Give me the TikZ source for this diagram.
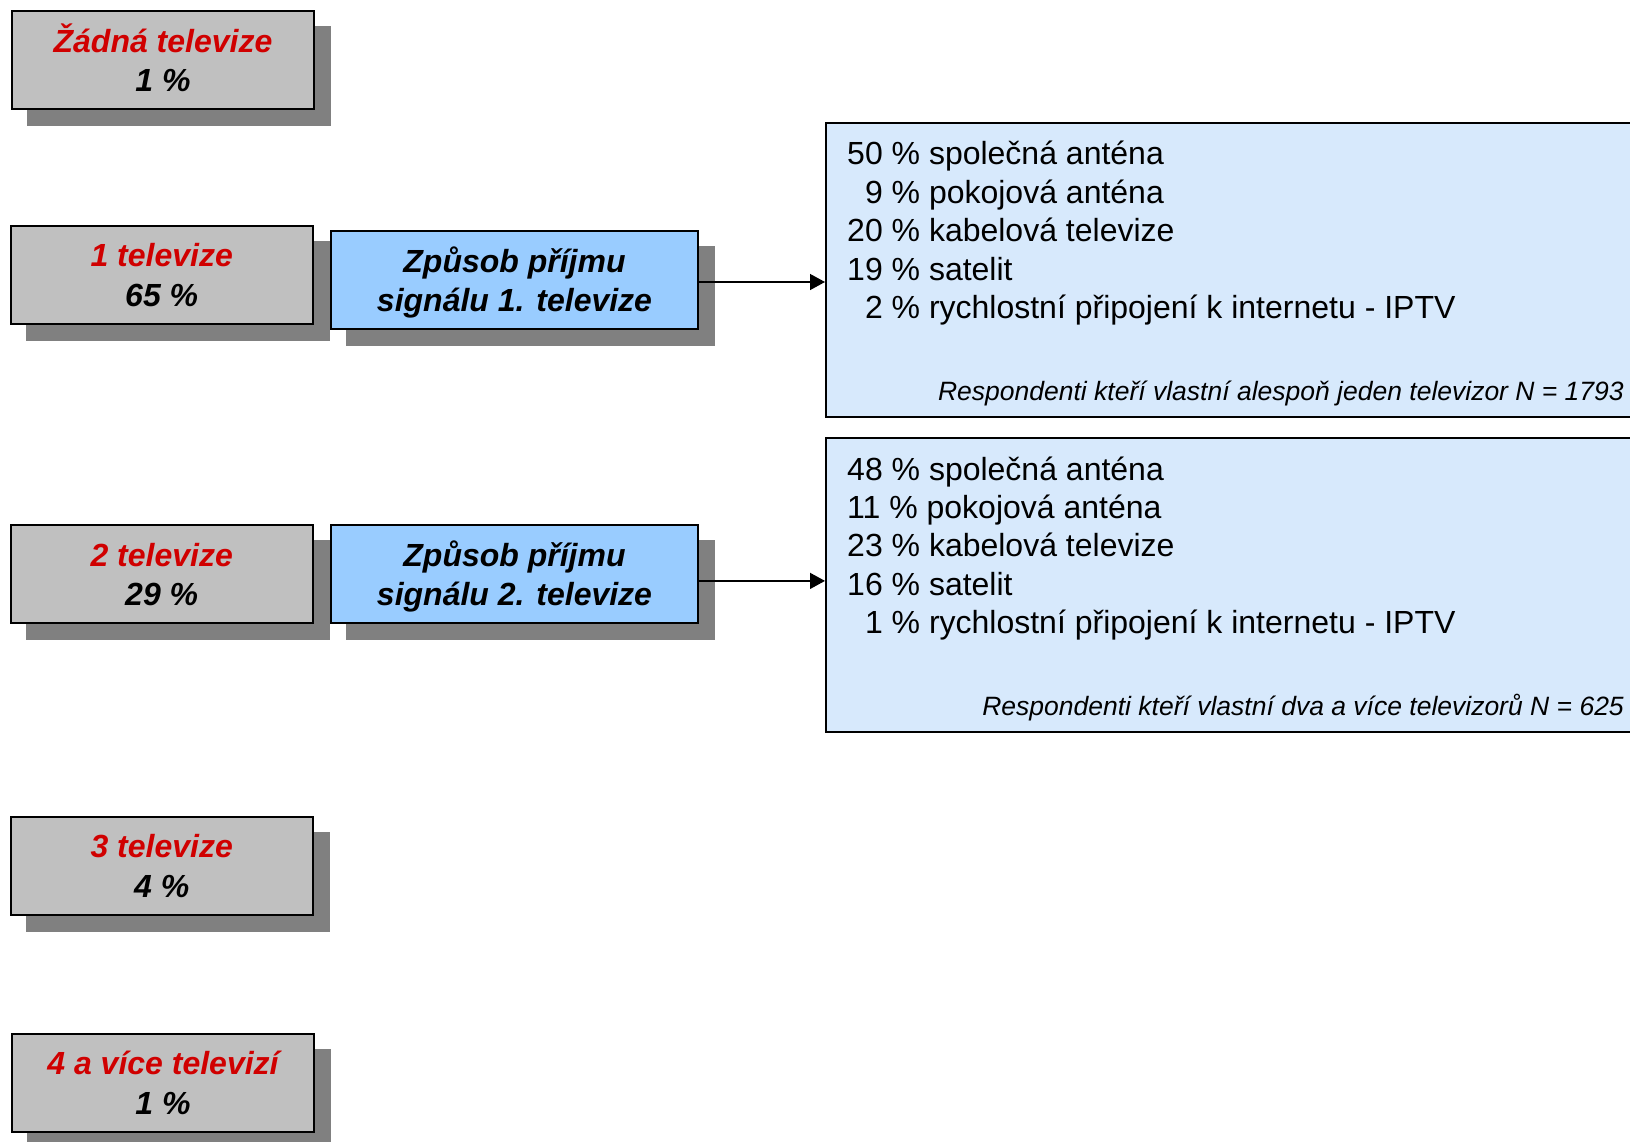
\documentclass[tikz,border=0pt]{standalone}
\usepackage{fontspec}
\setmainfont{Liberation Sans}
\usetikzlibrary{arrows.meta,backgrounds}
\definecolor{boxgrey}{HTML}{C0C0C0}
\definecolor{shadowgrey}{HTML}{808080}
\definecolor{paleblue}{HTML}{99CCFF}
\definecolor{lightblue}{HTML}{D7E9FC}
\definecolor{tvred}{HTML}{D00000}
\newcommand\tvlines[2]{\rule{0pt}{31.5pt}#1\\#2\rule[-8pt]{0pt}{0pt}}
\begin{document}
\begin{tikzpicture}[x=1pt,y=-1pt,
  tvbox/.style={draw=black, line width=2pt, fill=boxgrey, inner sep=0pt, align=center,
    minimum width=302pt, minimum height=98pt,
    font=\fontsize{32}{39.5}\selectfont\bfseries\itshape},
  sigbox/.style={tvbox, fill=paleblue, minimum width=367pt, minimum height=98pt},
  infobox/.style={draw=black, line width=2pt, fill=lightblue, inner sep=0pt,
    minimum width=808pt, minimum height=294pt},
  infoline/.style={anchor=base west, inner sep=0pt, font=\fontsize{32}{38}\selectfont},
  footer/.style={anchor=base east, inner sep=0pt, font=\fontsize{26.5}{32}\selectfont\itshape},
  link/.style={line width=1.4pt, -{Triangle[length=15pt,width=16pt]}}]
\useasboundingbox (0,0) rectangle (1630,1141);
\clip (0,0) rectangle (1630,1141);

% grey boxes
\node[tvbox] (A) at (163,60.2) {\tvlines{\textcolor{tvred}{Žádná televize}}{1 \%}};
\node[tvbox] (B) at (161.7,274.8) {\tvlines{\textcolor{tvred}{1 televize}}{65 \%}};
\node[tvbox] (D) at (161.7,574.4) {\tvlines{\textcolor{tvred}{2 televize}}{29 \%}};
\node[tvbox] (F) at (161.7,865.5) {\tvlines{\textcolor{tvred}{3 televize}}{4 \%}};
\node[tvbox] (G) at (163,1082.5) {\tvlines{\textcolor{tvred}{4 a více televizí}}{1 \%}};

% signal boxes
\node[sigbox] (C) at (514.5,280) {\tvlines{Způsob příjmu}{signálu 1. televize}};
\node[sigbox] (E) at (514.5,574.4) {\tvlines{Způsob příjmu}{signálu 2. televize}};

% shadows
\begin{scope}[on background layer]
\foreach \n in {A,B,C,D,E,F,G}
  \fill[shadowgrey] ([shift={(16,16)}]\n.south west) rectangle ([shift={(16,16)}]\n.north east);
\end{scope}

% info boxes
\node[infobox] (info1) at (1230,269.7) {};
\node[infobox] (info2) at (1230,584.7) {};

\node[infoline] (a1) at (847,164.5) {50 \% společná anténa};
\node[infoline] (a2) at (847,203) {\phantom{0}9 \% pokojová anténa};
\node[infoline] (a3) at (847,241.5) {20 \% kabelová televize};
\node[infoline] (a4) at (847,280) {19 \% satelit};
\node[infoline] (a5) at (847,318.5) {\phantom{0}2 \% rychlostní připojení k internetu - IPTV};
\node[footer] (af) at (1624,400.5) {Respondenti kteří vlastní alespoň jeden televizor N = 1793};

\node[infoline] (b1) at (847,480.5) {48 \% společná anténa};
\node[infoline] (b2) at (847,518.7) {11 \% pokojová anténa};
\node[infoline] (b3) at (847,556.9) {23 \% kabelová televize};
\node[infoline] (b4) at (847,595.1) {16 \% satelit};
\node[infoline] (b5) at (847,633.3) {\phantom{0}1 \% rychlostní připojení k internetu - IPTV};
\node[footer] (bf) at (1624,715) {Respondenti kteří vlastní dva a více televizorů N = 625};

% connectors
\coordinate (c1) at ([yshift=-2pt]C.east);
\coordinate (e1) at ([yshift=-6.5pt]E.east);
\draw[link] (c1) -- (c1 -| info1.west);
\draw[link] (e1) -- (e1 -| info2.west);
\end{tikzpicture}
\end{document}
